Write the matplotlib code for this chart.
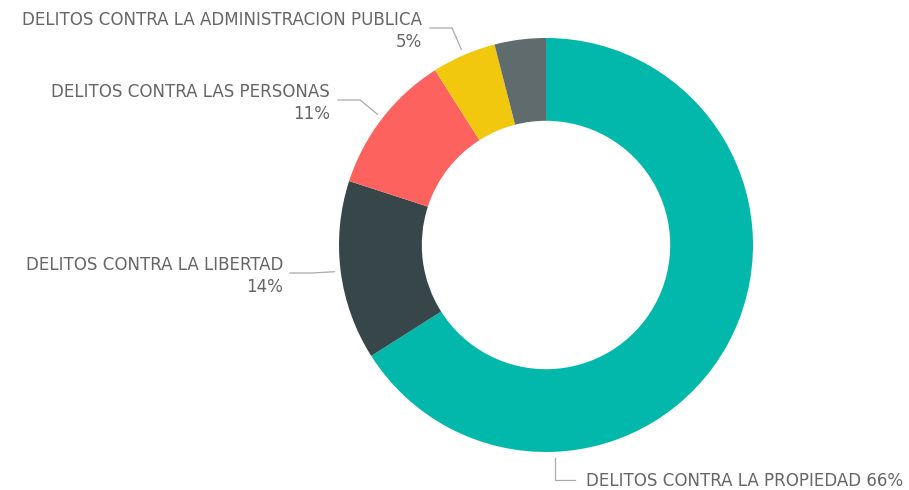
import numpy as np
import matplotlib.pyplot as plt

# slice data (clockwise from 12 o'clock)
categories = ["DELITOS CONTRA LA PROPIEDAD", "DELITOS CONTRA LA LIBERTAD",
              "DELITOS CONTRA LAS PERSONAS", "DELITOS CONTRA LA ADMINISTRACION PUBLICA",
              "OTROS"]
shares = [66, 14, 11, 5, 4]
colors = ["#01B8AA", "#374649", "#FD625E", "#F2C80F", "#5F6B6D"]

W, H = 909, 490
cx, cy = 546, H - 245
R = 207

fig = plt.figure(figsize=(W / 100, H / 100), dpi=100)
ax = fig.add_axes([0, 0, 1, 1])

wedges, _ = ax.pie(shares, colors=colors, startangle=90, counterclock=False,
                   radius=R, center=(cx, cy),
                   wedgeprops=dict(width=R * 0.4, linewidth=0))
ax.set_xlim(0, W)
ax.set_ylim(0, H)
ax.set_aspect("equal")
ax.axis("off")

txt = dict(color="#666666", fontsize=13.3, family="DejaVu Sans", stretch="condensed")
line = dict(color="#aaaaaa", lw=0.9)


def anchor(w, r=1.03, ang=None):
    a = (w.theta1 + w.theta2) / 2 if ang is None else ang
    return cx + R * r * np.cos(np.radians(a)), cy + R * r * np.sin(np.radians(a))


# left-side labels: text right edge, elbow of the connector
left = {1: (283, 265, 290), 2: (330, 92, 338), 3: (422, 20, 430)}
for i, (xr, yt, xl) in left.items():
    ax_, ay_ = anchor(wedges[i])
    yl = H - yt - 8
    ax.plot([xl, xl + 22, ax_], [yl, yl, ay_], **line)
    ax.text(xr, H - yt, categories[i], ha="right", va="center", **txt)
    ax.text(xr, H - yt - 22, f"{shares[i]}%", ha="right", va="center", **txt)

# bottom label for the largest slice
px, py = anchor(wedges[0], r=1.03, ang=-87.5)
ax.plot([px, px, px + 20], [py, H - 480, H - 480], **line)
ax.text(px + 31, H - 481, f"{categories[0]} {shares[0]}%", ha="left", va="center", **txt)

fig.savefig("out.png", dpi=100)
